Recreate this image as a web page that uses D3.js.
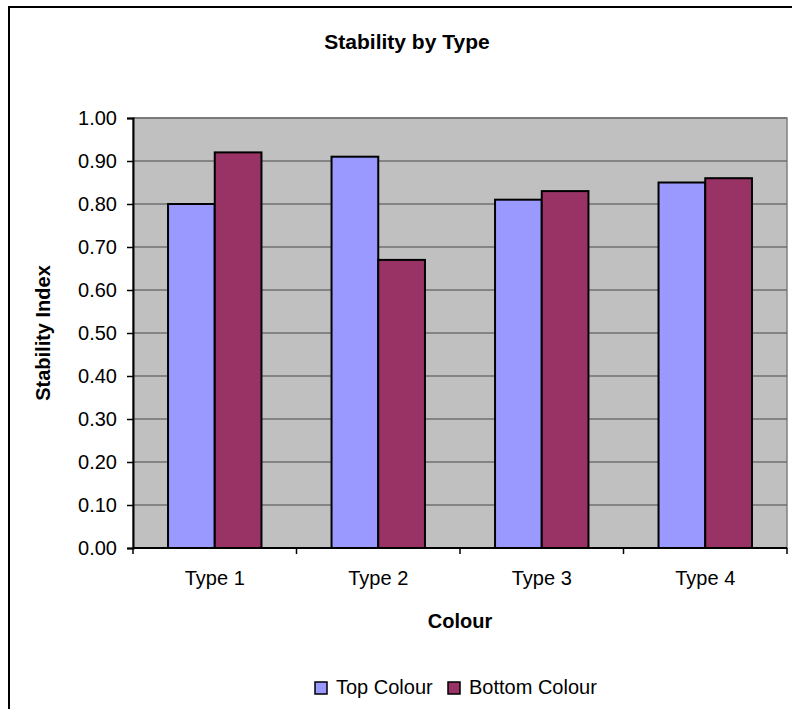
<!DOCTYPE html>
<html>
<head>
<meta charset="utf-8">
<script src="https://cdn.jsdelivr.net/npm/d3@7"></script>
<style>
  body { margin: 0; background: white; }
  text { font-family: Arial, "Liberation Sans", sans-serif; fill: black; }
</style>
</head>
<body>
<div id="chart"></div>
<script>
// data
var types = ["Type 1", "Type 2", "Type 3", "Type 4"]
var series = ["Top Colour", "Bottom Colour"]
var topColour = [0.80, 0.91, 0.81, 0.85]
var bottomColour = [0.92, 0.67, 0.83, 0.86]
var yTicks = [0, 0.1, 0.2, 0.3, 0.4, 0.5, 0.6, 0.7, 0.8, 0.9, 1.0]
var colors = ["#9999FF", "#993366"]

var width = 792, height = 709
var margin = {top: 118, right: 5, bottom: 161, left: 133}

var svg = d3.select("#chart").append("svg")
  .attr("width", width)
  .attr("height", height)

// chart frame
svg.append("rect")
  .attr("x", 9).attr("y", 7)
  .attr("width", width + 20).attr("height", height + 20)
  .attr("fill", "white")
  .attr("stroke", "black")
  .attr("stroke-width", 2)

var plotW = width - margin.left - margin.right,
    plotH = height - margin.top - margin.bottom

var g = svg.append("g")
  .attr("transform", "translate(" + margin.left + "," + margin.top + ")")

// scales
var x0 = d3.scaleBand().domain(types).range([0, plotW]).padding(0)
var x1 = d3.scaleBand().domain(series).range([0, x0.bandwidth()])
  .paddingInner(0).paddingOuter(0.75)
var y = d3.scaleLinear().domain([0, 1]).range([plotH, 0])

// plot background
g.append("rect")
  .attr("width", plotW).attr("height", plotH)
  .attr("fill", "#C0C0C0")
  .attr("stroke", "#808080")
  .attr("stroke-width", 1.5)

// gridlines
g.selectAll(".grid")
  .data(yTicks.slice(1))
  .join("line")
  .attr("class", "grid")
  .attr("x1", 0).attr("x2", plotW)
  .attr("y1", function(d){ return y(d) })
  .attr("y2", function(d){ return y(d) })
  .attr("stroke", "#707070")
  .attr("stroke-width", 1.5)

// bars
var rows = types.map(function(t, i){
  return {type: t, values: [topColour[i], bottomColour[i]]}
})

var groups = g.selectAll(".type-g")
  .data(rows)
  .join("g")
  .attr("class", "type-g")
  .attr("transform", function(d){ return "translate(" + x0(d.type) + ",0)" })

groups.selectAll("rect")
  .data(function(d){ return d.values.map(function(v, i){ return {s: series[i], v: v, i: i} }) })
  .join("rect")
  .attr("x", function(d){ return x1(d.s) })
  .attr("y", function(d){ return y(d.v) })
  .attr("width", x1.bandwidth())
  .attr("height", function(d){ return plotH - y(d.v) })
  .attr("fill", function(d){ return colors[d.i] })
  .attr("stroke", "black")
  .attr("stroke-width", 2)

// y axis
var yAxis = g.append("g")
  .call(d3.axisLeft(y).tickValues(yTicks).tickFormat(d3.format(".2f")).tickSizeOuter(0).tickSize(6).tickPadding(10))
yAxis.select(".domain").attr("stroke", "black").attr("stroke-width", 2)
yAxis.selectAll(".tick line").attr("stroke", "black").attr("stroke-width", 1.5)
yAxis.selectAll("text").style("font-size", "20px").attr("font-family", null)

// x axis with ticks at the category boundaries
var xAxis = g.append("g")
  .attr("transform", "translate(0," + plotH + ")")
xAxis.append("line")
  .attr("x1", 0).attr("x2", plotW)
  .attr("stroke", "black").attr("stroke-width", 2)
xAxis.selectAll(".xtick")
  .data(types.map(function(t){ return x0(t) }).concat([plotW]))
  .join("line")
  .attr("class", "xtick")
  .attr("x1", function(d){ return d }).attr("x2", function(d){ return d })
  .attr("y1", 0).attr("y2", 6)
  .attr("stroke", "black").attr("stroke-width", 1.5)
xAxis.selectAll(".xlabel")
  .data(types)
  .join("text")
  .attr("class", "xlabel")
  .attr("x", function(d){ return x0(d) + x0.bandwidth() / 2 })
  .attr("y", 37)
  .attr("text-anchor", "middle")
  .style("font-size", "20px")
  .text(function(d){ return d })

// titles
svg.append("text")
  .attr("x", 407).attr("y", 49)
  .attr("text-anchor", "middle")
  .style("font-size", "21px").style("font-weight", "bold")
  .text("Stability by Type")

svg.append("text")
  .attr("x", margin.left + plotW / 2).attr("y", 628)
  .attr("text-anchor", "middle")
  .style("font-size", "20px").style("font-weight", "bold")
  .text("Colour")

svg.append("text")
  .attr("transform", "translate(50," + (margin.top + plotH / 2) + ") rotate(-90)")
  .attr("text-anchor", "middle")
  .style("font-size", "20px").style("font-weight", "bold")
  .text("Stability Index")

// legend
var legendX = [315, 448]
var leg = svg.selectAll(".legend")
  .data(series)
  .join("g")
  .attr("class", "legend")
  .attr("transform", function(d, i){ return "translate(" + legendX[i] + ",682)" })
leg.append("rect")
  .attr("width", 12).attr("height", 12)
  .attr("fill", function(d, i){ return colors[i] })
  .attr("stroke", "black").attr("stroke-width", 1.5)
leg.append("text")
  .attr("x", 21).attr("y", 12)
  .style("font-size", "20px")
  .text(function(d){ return d })
</script>
</body>
</html>
